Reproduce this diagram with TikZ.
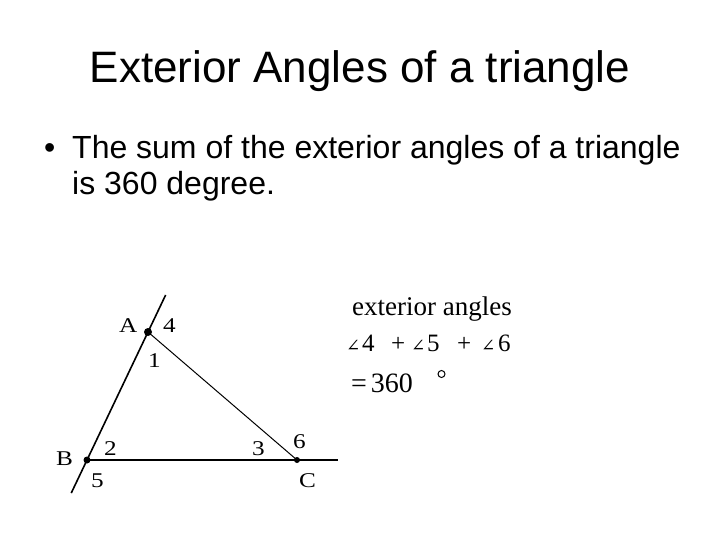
\documentclass[tikz,border=0pt]{standalone}
\usepackage{fontspec}
\usetikzlibrary{calc}
\setmainfont{Liberation Sans}
\newfontfamily\serifx{Liberation Serif}
\newfontfamily\seriflbl[FakeStretch=1.2]{Liberation Serif}
\newfontfamily\dejavux{DejaVu Serif}
\begin{document}
\begin{tikzpicture}[x=1pt,y=-1pt,
  lbl/.style={font=\seriflbl\fontsize{21}{21}\selectfont, inner sep=0pt, anchor=base west},
  frm/.style={font=\serifx\fontsize{25}{25}\selectfont, inner sep=0pt, anchor=base west},
  ang/.style={font=\dejavux\fontsize{17}{17}\selectfont, inner sep=0pt, anchor=base west},
  body/.style={font=\fontsize{32}{36}\selectfont, inner sep=0pt, anchor=base west},
  dot/.style={circle, fill=black, inner sep=0pt, minimum size=7pt},
  ln/.style={line width=1.6pt}]
\useasboundingbox (0,0) rectangle (720,540);
\node[font=\fontsize{44}{48}\selectfont, inner sep=0pt, anchor=base] (title) at (360,83) {Exterior Angles of a triangle};
\node[body] (bul) at (44,159) {\textbullet};
\node[body] (line1) at (72,159) {The sum of the exterior angles of a triangle};
\node[body] (line2) at (72,195) {is 360 degree.};
% triangle
\node[dot, minimum size=8pt] (A) at (148,332) {};
\node[dot] (B) at (87,460) {};
\node[dot, minimum size=6pt] (C) at (297,460) {};
\coordinate (T) at ($(A.center)!-0.289!(B.center)$);
\coordinate (Bl) at ($(B.center)!-0.258!(A.center)$);
\coordinate (R) at (338,460);
\draw[ln] (T) -- (Bl);
\draw[ln] (B.center) -- (R);
\draw[line width=1pt] (A.center) -- (C.center);
\node[lbl] (la) at (119,332) {A};
\node[lbl] (l4) at (163,332) {4};
\node[lbl] (l1) at (148,367) {1};
\node[lbl] (lb) at (56,465) {B};
\node[lbl] (l2) at (104,455) {2};
\node[lbl] (l5) at (91,487) {5};
\node[lbl] (l3) at (252,455) {3};
\node[lbl] (l6) at (293,448) {6};
\node[lbl] (lc) at (299,487) {C};
% formula
\node[font=\serifx\fontsize{27}{27}\selectfont, inner sep=0pt, anchor=base west] (ext) at (352,315) {exterior angles};
\node[ang] (a1) at (346,351) {∠};
\node[frm] (d4) at (362,351) {4};
\node[frm] (p1) at (391,351) {+};
\node[ang] (a2) at (411,351) {∠};
\node[frm] (d5) at (427,351) {5};
\node[frm] (p2) at (457,351) {+};
\node[ang] (a3) at (481,351) {∠};
\node[frm] (d6) at (498,351) {6};
\node[font=\serifx\fontsize{28}{28}\selectfont, inner sep=0pt, anchor=base west] (eq) at (351,392) {=\kern4pt360};
\draw[line width=1pt] (441.5,374) circle (3.5);
\end{tikzpicture}
\end{document}
